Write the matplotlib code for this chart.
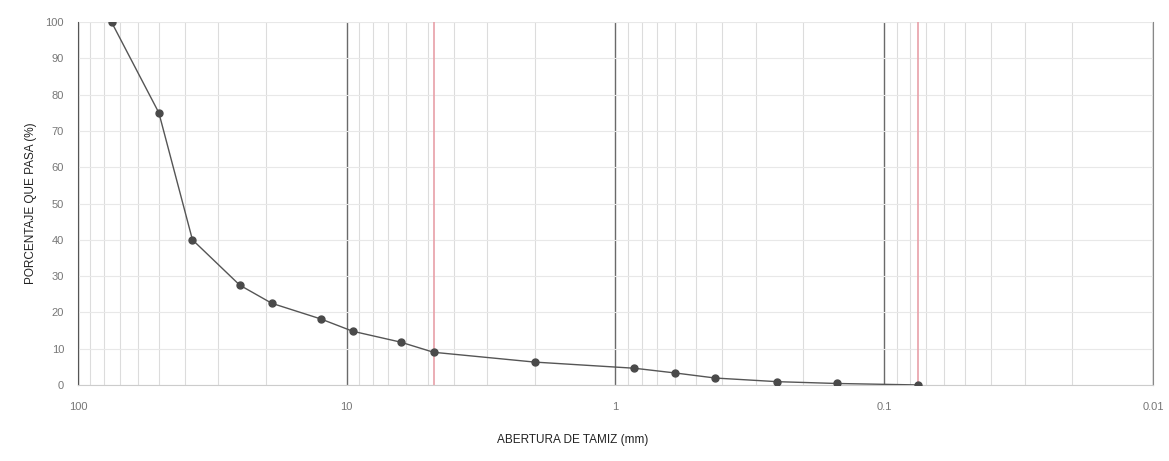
import matplotlib.pyplot as plt
import numpy as np
from matplotlib.ticker import FixedLocator, LogLocator, NullFormatter

# tamices (mm) y porcentaje que pasa
abertura = [75, 50, 37.5, 25, 19, 12.5, 9.5, 6.3, 4.75, 2.0, 0.85, 0.6, 0.425, 0.25, 0.15, 0.075]
pasa = [100, 75, 40, 27.5, 22.5, 18.2, 14.8, 11.8, 9.0, 6.3, 4.6, 3.3, 1.9, 0.9, 0.4, 0.0]
x_ticks = [100, 10, 1, 0.1, 0.01]
x_labels = ['100', '10', '1', '0.1', '0.01']
y_ticks = list(range(0, 101, 10))
lineas_rojas = [4.75, 0.075]

plt.rcParams['font.family'] = ['Liberation Sans', 'DejaVu Sans']

fig = plt.figure(figsize=(11.69, 4.61), dpi=100)
ax = fig.add_axes([0.0667, 0.165, 0.9196, 0.787])

ax.set_xscale('log')
ax.set_xlim(100, 0.01)
ax.set_ylim(0, 100)

ax.xaxis.set_major_locator(FixedLocator(x_ticks))
ax.set_xticks(x_ticks)
ax.set_xticklabels(x_labels)
ax.xaxis.set_minor_locator(LogLocator(base=10, subs=np.arange(2, 10)))
ax.xaxis.set_minor_formatter(NullFormatter())
ax.set_yticks(y_ticks)

ax.grid(True, which='major', axis='x', color='#6a6a6a', linewidth=1.0)
ax.grid(True, which='minor', axis='x', color='#dcdcdc', linewidth=0.8)
ax.grid(True, which='major', axis='y', color='#e8e8e8', linewidth=0.8)

for xr in lineas_rojas:
    ax.axvline(xr, color='#e8a0a8', linewidth=1.2, zorder=2)

ax.plot(abertura, pasa, color='#555555', linewidth=1.0, marker='o',
        markersize=5, markerfacecolor='#4a4a4a', markeredgecolor='#4a4a4a', zorder=3)

ax.spines['top'].set_visible(False)
ax.spines['left'].set_color('#555555')
ax.spines['right'].set_color('#888888')
ax.spines['bottom'].set_color('#cccccc')
ax.tick_params(axis='both', which='both', length=0, colors='#777777', labelsize=8)
ax.tick_params(axis='x', pad=12)
ax.tick_params(axis='y', pad=10)

ax.set_xlabel('ABERTURA DE TAMIZ (mm)', fontsize=8.5, color='#222222')
ax.xaxis.set_label_coords(0.46, -0.135)
ax.set_ylabel('PORCENTAJE QUE PASA (%)', fontsize=8.5, color='#222222', labelpad=6)

fig.savefig('out.png', dpi=100)
